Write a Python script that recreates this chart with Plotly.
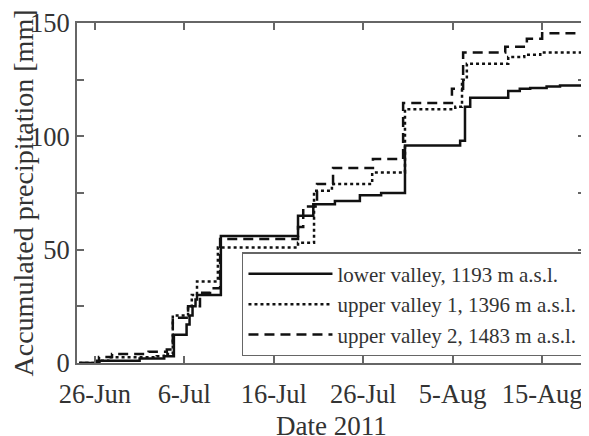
import plotly.graph_objects as go

# Lower valley, 1193 m a.s.l. (solid)
lower_t = ["2011-06-24 06:00", "2011-06-26 12:00", "2011-07-01 00:00", "2011-07-03 18:00",
           "2011-07-04 20:00", "2011-07-06 06:00", "2011-07-06 14:00", "2011-07-06 22:00",
           "2011-07-07 06:00", "2011-07-07 10:00", "2011-07-10 02:00", "2011-07-18 17:00",
           "2011-07-20 10:00", "2011-07-22 20:00", "2011-07-25 15:00", "2011-07-28 00:00",
           "2011-07-30 16:00", "2011-08-05 20:00", "2011-08-06 09:00", "2011-08-06 23:00",
           "2011-08-11 05:00", "2011-08-12 12:00", "2011-08-13 16:00", "2011-08-15 12:00",
           "2011-08-17 00:00", "2011-08-19 18:00"]
lower_v = [0, 1, 2, 3, 12.5, 17, 21, 25, 28, 30, 56, 65, 70, 71.5, 74, 75, 96, 98, 113, 117,
           120, 121, 121.3, 122, 122.4, 122.6]

# Upper valley 1, 1396 m a.s.l. (dotted)
up1_t = ["2011-06-24 06:00", "2011-06-26 05:00", "2011-06-27 15:00", "2011-07-02 22:00",
         "2011-07-03 17:00", "2011-07-04 17:00", "2011-07-06 10:00", "2011-07-06 20:00",
         "2011-07-07 10:00", "2011-07-09 18:00", "2011-07-18 17:00", "2011-07-20 12:00",
         "2011-07-22 12:00", "2011-07-27 00:00", "2011-07-30 16:00", "2011-08-05 07:00",
         "2011-08-06 01:00", "2011-08-06 14:00", "2011-08-11 05:00", "2011-08-13 00:00",
         "2011-08-14 19:00", "2011-08-19 18:00"]
up1_v = [0, 1, 2.5, 3, 4, 21, 25, 30, 36, 51, 53, 76, 79, 84, 112, 113, 125, 132, 135, 136,
         137, 137]

# Upper valley 2, 1483 m a.s.l. (dashed)
up2_t = ["2011-06-24 06:00", "2011-06-26 11:00", "2011-06-27 22:00", "2011-07-02 00:00",
         "2011-07-04 01:00", "2011-07-04 17:00", "2011-07-06 10:00", "2011-07-07 18:00",
         "2011-07-08 21:00", "2011-07-10 00:00", "2011-07-18 17:00", "2011-07-19 07:00",
         "2011-07-20 20:00", "2011-07-22 15:00", "2011-07-27 02:00", "2011-07-30 11:00",
         "2011-08-04 22:00", "2011-08-06 04:00", "2011-08-10 21:00", "2011-08-13 07:00",
         "2011-08-15 00:00", "2011-08-19 18:00"]
up2_v = [0, 2.6, 4, 5, 6, 20, 25, 31, 33, 54.7, 60, 69, 79, 86, 90, 114.7, 121, 137, 139.5,
         143, 145.5, 145.5]

names = ["lower valley, 1193 m a.s.l.", "upper valley 1, 1396 m a.s.l.",
         "upper valley 2, 1483 m a.s.l."]
x_title = "Date 2011"
y_title = "Accumulated precipitation [mm]"

x_range = ["2011-06-24 00:00", "2011-08-19 19:00"]
tick_start = "2011-06-26"
y_range = [0, 150]

font_family = "Liberation Serif, Times New Roman, serif"
txt = "#333333"
axc = "#666666"

fig = go.Figure()
for t, v, nm, dash in [(lower_t, lower_v, names[0], "solid"),
                       (up1_t, up1_v, names[1], "dot"),
                       (up2_t, up2_v, names[2], "10px,6px")]:
    fig.add_trace(go.Scatter(x=t, y=v, mode="lines", name=nm, line_shape="hv",
                             line=dict(color="#111111", width=2.5, dash=dash)))

# page body has an 8px default margin, so the figure is sized to fit the window
fig.update_layout(
    width=581, height=428,
    margin=dict(l=69, r=4, t=15, b=73, autoexpand=False),
    paper_bgcolor="white", plot_bgcolor="white",
    font=dict(family=font_family, size=26, color=txt),
    showlegend=True,
    legend=dict(x=0.996, y=0.02, xanchor="right", yanchor="bottom",
                bordercolor=axc, borderwidth=1.5, bgcolor="white",
                font=dict(size=21, color=txt), itemwidth=84,
                tracegroupgap=0),
)
# x-axis title placed as a paper annotation so it can sit a little lower
fig.add_annotation(text=x_title, xref="paper", yref="paper", x=0.5, y=-0.135,
                   xanchor="center", yanchor="top", showarrow=False,
                   font=dict(size=27, color=txt, family=font_family))
fig.update_xaxes(
    range=x_range, type="date", tick0=tick_start, dtick=864000000,
    tickformat="%-d-%b", ticks="inside", ticklen=7, tickwidth=1.5, tickcolor=axc,
    showline=True, linecolor=axc, linewidth=2, mirror="ticks", showgrid=False,
    zeroline=False, tickfont=dict(size=26.5), automargin=False, ticklabelstandoff=6,
)
fig.update_yaxes(
    range=y_range, dtick=50, tick0=0, ticks="inside", ticklen=7, tickwidth=1.5,
    tickcolor=axc, showline=True, linecolor=axc, linewidth=2, mirror="ticks",
    showgrid=False, zeroline=False, tickfont=dict(size=26.5), automargin=False,
    minor=dict(dtick=25, ticks="inside", ticklen=7, tickwidth=1.5, tickcolor=axc),
    title=dict(text=y_title, font=dict(size=28), standoff=2),
)

fig.write_html("out.html")
